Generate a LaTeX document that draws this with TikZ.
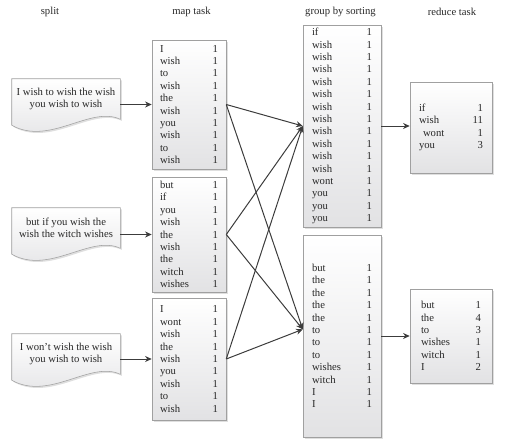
\documentclass[tikz,border=0pt]{standalone}
\usepackage{fontspec}
\setmainfont{Liberation Serif}
\usepackage{tikz}
\usetikzlibrary{arrows.meta, positioning, shadows, calc, backgrounds}
\usepackage{xcolor}
\definecolor{inkgray}{RGB}{40,40,40}
\definecolor{edgegray}{RGB}{160,160,160}
\definecolor{shadegray}{RGB}{226,226,228}
\definecolor{arrowgray}{RGB}{60,60,60}
\newcommand{\wc}[2]{\makebox[\hsize]{#1\hfill#2}}
\tikzset{
  basebox/.style={
    rectangle, draw=edgegray, align=left, text=inkgray,
    font=\fontsize{8}{9.3}\selectfont, inner sep=0pt,
    top color=white, bottom color=shadegray,
    drop shadow={opacity=0.25, shadow xshift=1.2pt, shadow yshift=-1.2pt}
  },
  mapbox/.style={basebox, minimum width=55.5pt, text width=43.5pt},
  groupbox/.style={basebox, minimum width=58.5pt, text width=45pt, minimum height=151.5pt},
  reducebox/.style={basebox, minimum width=61.5pt, text width=48pt},
  doctext/.style={align=center, text=inkgray, font=\fontsize{8}{9.3}\selectfont,
    minimum width=81pt, minimum height=30pt, inner sep=0pt},
  docshape/.style={draw=edgegray, top color=white, bottom color=shadegray,
    drop shadow={opacity=0.25, shadow xshift=1.2pt, shadow yshift=-1.2pt}},
  headlabel/.style={text=inkgray, font=\fontsize{8}{9.3}\selectfont},
  arrow/.style={-{Stealth[length=5pt, width=4.5pt]}, line width=0.75pt, draw=arrowgray}
}

\begin{document}
\begin{tikzpicture}[x=0.75pt, y=-0.75pt]
  \useasboundingbox (0,0) rectangle (515,443);

  % column titles
  \node[headlabel] (hsplit)  at (50,12)    {split};
  \node[headlabel] (hmap)    at (191.5,12) {map task};
  \node[headlabel] (hgroup)  at (340.5,12) {group by sorting};
  \node[headlabel] (hreduce) at (452,12)   {reduce task};

  % split documents
  \node[doctext] (s1) at (66,99)  {I wish to wish the wish\\you wish to wish};
  \node[doctext] (s2) at (66,228) {but if you wish the\\wish the witch wishes};
  \node[doctext] (s3) at (66,354) {I won't wish the wish\\you wish to wish};
  \begin{scope}[on background layer]
    \draw[docshape] (s1.north west) -- (s1.north east) -- (s1.south east)
      .. controls +(-30,-14) and +(38,21) .. ([yshift=-4.5pt]s1.south west) -- cycle;
    \draw[docshape] (s2.north west) -- (s2.north east) -- (s2.south east)
      .. controls +(-30,-14) and +(38,21) .. ([yshift=-4.5pt]s2.south west) -- cycle;
    \draw[docshape] (s3.north west) -- (s3.north east) -- (s3.south east)
      .. controls +(-30,-14) and +(38,21) .. ([yshift=-4.5pt]s3.south west) -- cycle;
  \end{scope}

  % map task
  \node[mapbox, minimum height=96.75pt] (m1) at (189,104.5) {%
    \wc{I}{1}\\\wc{wish}{1}\\\wc{to}{1}\\\wc{wish}{1}\\\wc{the}{1}\\
    \wc{wish}{1}\\\wc{you}{1}\\\wc{wish}{1}\\\wc{to}{1}\\\wc{wish}{1}};
  \node[mapbox, minimum height=86.25pt] (m2) at (189,234.5) {%
    \wc{but}{1}\\\wc{if}{1}\\\wc{you}{1}\\\wc{wish}{1}\\\wc{the}{1}\\
    \wc{wish}{1}\\\wc{the}{1}\\\wc{witch}{1}\\\wc{wishes}{1}};
  \node[mapbox, minimum height=91.5pt] (m3) at (189,359) {%
    \wc{I}{1}\\\wc{wont}{1}\\\wc{wish}{1}\\\wc{the}{1}\\\wc{wish}{1}\\
    \wc{you}{1}\\\wc{wish}{1}\\\wc{to}{1}\\\wc{wish}{1}};

  % group by sorting
  \node[groupbox] (g1) at (342,126) {%
    \wc{if}{1}\\\wc{wish}{1}\\\wc{wish}{1}\\\wc{wish}{1}\\\wc{wish}{1}\\
    \wc{wish}{1}\\\wc{wish}{1}\\\wc{wish}{1}\\\wc{wish}{1}\\\wc{wish}{1}\\
    \wc{wish}{1}\\\wc{wish}{1}\\\wc{wont}{1}\\\wc{you}{1}\\\wc{you}{1}\\
    \wc{you}{1}};
  \node[groupbox] (g2) at (342,336) {%
    \wc{but}{1}\\\wc{the}{1}\\\wc{the}{1}\\\wc{the}{1}\\\wc{the}{1}\\
    \wc{to}{1}\\\wc{to}{1}\\\wc{to}{1}\\\wc{wishes}{1}\\\wc{witch}{1}\\
    \wc{I}{1}\\\wc{I}{1}};

  % reduce task
  \node[reducebox, minimum height=68.25pt] (r1) at (451,127.5) {%
    \wc{if}{1}\\\wc{wish}{11}\\\wc{\hspace{3pt}wont}{1}\\\wc{you}{3}};
  \node[reducebox, minimum height=70.5pt, text width=45pt] (r2) at (451,336) {%
    \wc{but}{1}\\\wc{the}{4}\\\wc{to}{3}\\\wc{wishes}{1}\\\wc{witch}{1}\\
    \wc{I}{2}};

  % connectors
  \draw[arrow] (s1.east |- m1.west) -- (m1.west);
  \draw[arrow] (s2.east |- m2.west) -- (m2.west);
  \draw[arrow] (s3.east |- m3.west) -- (m3.west);

  \draw[arrow] (m1.east) -- (g1.west);
  \draw[arrow] (m1.east) -- ([yshift=5pt]g2.west);
  \draw[arrow] (m2.east) -- (g1.west);
  \draw[arrow] (m2.east) -- ([yshift=5pt]g2.west);
  \draw[arrow] (m3.east) -- (g1.west);
  \draw[arrow] (m3.east) -- ([yshift=5pt]g2.west);

  \draw[arrow] (g1.east) -- (g1.east -| r1.west);
  \draw[arrow] (g2.east) -- (g2.east -| r2.west);
\end{tikzpicture}
\end{document}
